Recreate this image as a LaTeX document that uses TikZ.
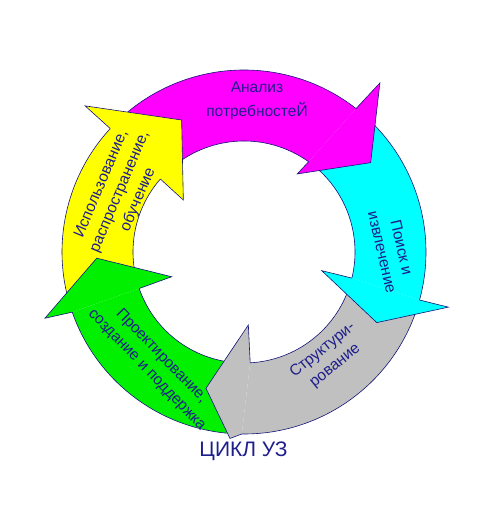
\documentclass[tikz,border=0pt]{standalone}
\usepackage{fontspec}
\setmainfont{Liberation Sans}
\definecolor{txtblue}{RGB}{30,30,140}
\definecolor{edgeblue}{RGB}{20,20,120}
\definecolor{cMag}{RGB}{255,0,255}
\definecolor{cCyan}{RGB}{0,255,255}
\definecolor{cGray}{RGB}{192,192,192}
\definecolor{cGreen}{RGB}{0,240,0}
\definecolor{cYellow}{RGB}{255,255,0}
\def\Ro{182}
\def\Ri{111}
\newcommand\bandbody[4]{%
  \fill[#1] (#2:\Ro) arc[start angle=#2,end angle=#3,radius=\Ro] -- (#4:\Ri) arc[start angle=#4,end angle=#2,radius=\Ri] -- cycle;
  \draw[edgeline] (#2:\Ro) arc[start angle=#2,end angle=#3,radius=\Ro];
  \draw[edgeline] (#4:\Ri) arc[start angle=#4,end angle=#2,radius=\Ri];}
\newcommand\bandhead[6]{%
  \fill[#1] (#2:\Ro) -- (#4) -- (#5) -- (#6) -- (#3:\Ri) -- cycle;
  \draw[edgeline] (#2:\Ro) -- (#4) -- (#5) -- (#6) -- (#3:\Ri);}
\tikzset{
  edgeline/.style={draw=edgeblue,line width=0.6pt,line join=miter},
  lbl/.style={text=txtblue,font=\fontsize{15.5}{20}\selectfont,align=center,inner sep=0pt},
}
\begin{document}
\begin{tikzpicture}[x=1pt,y=1pt]
\useasboundingbox (0,0) rectangle (487,508);
\begin{scope}[shift={(244,256)}]
% bodies
\bandbody{cMag}{133}{52}{54.4}
\bandbody{cCyan}{48}{-15.3}{-13.6}
\bandbody{cGray}{-18}{-90.7}{-86.8}
\bandbody{cGreen}{266}{199.3}{199.2}
\bandbody{cYellow}{195}{137.3}{138.9}
% heads
\bandhead{cMag}{52}{54.4}{51.2:216.9}{35.2:155}{55.7:94.5}
\bandhead{cCyan}{-15.3}{-13.6}{-15.1:211.7}{-28:150.4}{-13.5:79.9}
\bandhead{cGray}{-90.7}{-86.8}{-94.3:187}{-105.6:141.5}{-86.6:73.1}
\bandhead{cGreen}{199.3}{199.2}{198.4:209.8}{182.4:147.4}{198.9:76.4}
\bandhead{cYellow}{137.3}{138.9}{137.4:215.9}{115.3:146}{139.4:79.9}
\end{scope}
% labels
\node[lbl,font=\fontsize{15.5}{23.5}\selectfont] (tA) at (257,407) {Анализ\\потребностеЙ};
\node[lbl,rotate=-77] (tB) at (392,258) {Поиск и\\извлечение};
\node[lbl,rotate=39] (tC) at (329,150) {Структури-\\рование};
\node[lbl,rotate=-46] (tD) at (154,145) {Проектирование,\\создание и поддержка};
\node[lbl,rotate=67] (tE) at (120,316) {Использование,\\распространение,\\обучение};
\node[text=txtblue,font=\fontsize{21}{24}\selectfont,inner sep=0pt] (tF) at (243.5,57) {ЦИКЛ УЗ};
\end{tikzpicture}
\end{document}
